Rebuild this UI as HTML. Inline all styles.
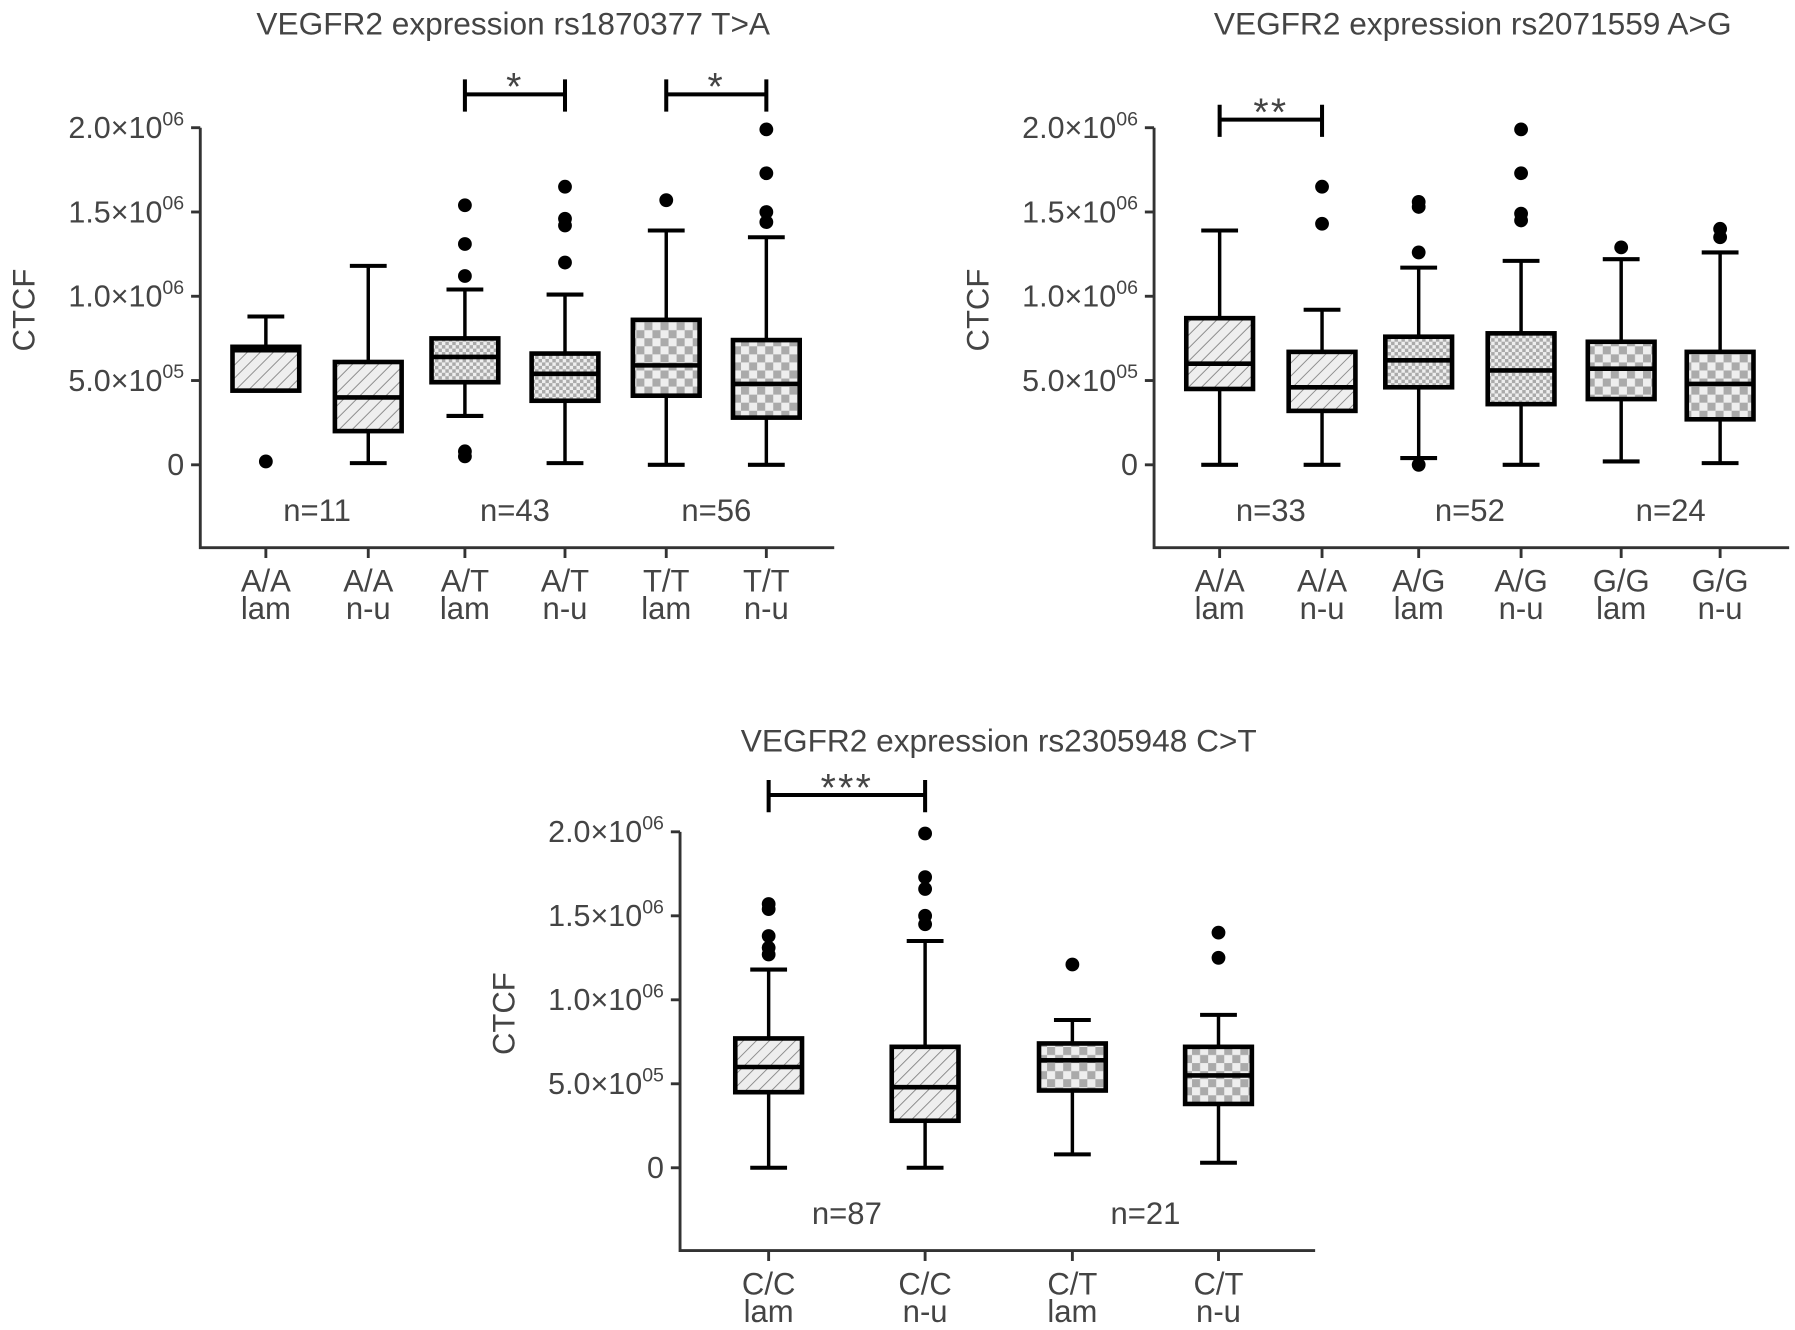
<!DOCTYPE html>
<html><head><meta charset="utf-8"><style>
html,body{margin:0;padding:0;background:#fff}
svg{display:block}
text{font-family:"Liberation Sans",sans-serif;fill:#444}
</style></head><body>
<svg id="fig" width="1795" height="1330" viewBox="0 0 1560 1156" xmlns="http://www.w3.org/2000/svg">
<defs>
<pattern id="hatch" patternUnits="userSpaceOnUse" width="8" height="8" patternTransform="rotate(45)">
<rect width="8" height="8" fill="#eee"/><line x1="0" y1="0" x2="0" y2="8" stroke="#888" stroke-width="1.6"/></pattern>
<pattern id="fine" patternUnits="userSpaceOnUse" width="6" height="6">
<rect width="6" height="6" fill="#eee"/><rect width="3" height="3" fill="#aaa"/><rect x="3" y="3" width="3" height="3" fill="#aaa"/></pattern>
<pattern id="coarse" patternUnits="userSpaceOnUse" width="14" height="14">
<rect width="14" height="14" fill="#eee"/><rect width="7" height="7" fill="#aaa"/><rect x="7" y="7" width="7" height="7" fill="#aaa"/></pattern>
</defs>
</svg>
<script>
// values in units of 1e5
const c1Cats=[["A/A","lam"],["A/A","n-u"],["A/T","lam"],["A/T","n-u"],["T/T","lam"],["T/T","n-u"]];
const c1Lo=[4.4,0.1,2.9,0.1,0,0];
const c1Q1=[4.4,2.0,4.9,3.8,4.1,2.8];
const c1Med=[6.8,4.0,6.4,5.4,5.9,4.8];
const c1Q3=[7.0,6.1,7.5,6.6,8.6,7.4];
const c1Hi=[8.8,11.8,10.4,10.1,13.9,13.5];
const c1Out=[[0.2],[],[15.4,13.1,11.2,0.8,0.5],[16.5,14.6,14.2,12.0],[15.7],[19.9,17.3,15.0,14.4]];
const c1Fill=["hatch","hatch","fine","fine","coarse","coarse"];
const c1N=["n=11","n=43","n=56"];

const c2Cats=[["A/A","lam"],["A/A","n-u"],["A/G","lam"],["A/G","n-u"],["G/G","lam"],["G/G","n-u"]];
const c2Lo=[0,0,0.4,0,0.2,0.1];
const c2Q1=[4.5,3.2,4.6,3.6,3.9,2.7];
const c2Med=[6.0,4.6,6.2,5.6,5.7,4.8];
const c2Q3=[8.7,6.7,7.6,7.8,7.3,6.7];
const c2Hi=[13.9,9.2,11.7,12.1,12.2,12.6];
const c2Out=[[],[16.5,14.3],[15.6,15.3,12.6,0.0],[19.9,17.3,14.9,14.5],[12.9],[14.0,13.5]];
const c2Fill=["hatch","hatch","fine","fine","coarse","coarse"];
const c2N=["n=33","n=52","n=24"];

const c3Cats=[["C/C","lam"],["C/C","n-u"],["C/T","lam"],["C/T","n-u"]];
const c3Lo=[0,0,0.8,0.3];
const c3Q1=[4.5,2.8,4.6,3.8];
const c3Med=[6.0,4.8,6.4,5.5];
const c3Q3=[7.7,7.2,7.4,7.2];
const c3Hi=[11.8,13.5,8.8,9.1];
const c3Out=[[15.7,15.4,13.8,13.1,12.7],[19.9,17.3,16.6,15.0,14.5],[12.1],[14.0,12.5]];
const c3Fill=["hatch","hatch","coarse","coarse"];
const c3N=["n=87","n=21"];

const yTicks=[0,5,10,15,20];
const yTickMain=["0","5.0×10","1.0×10","1.5×10","2.0×10"];
const yTickExp=["","05","06","06","06"];

const NS="http://www.w3.org/2000/svg";
const svg=document.getElementById('fig');
function mk(tag,attrs,parent){const e=document.createElementNS(NS,tag);for(const k in attrs)e.setAttribute(k,attrs[k]);(parent||svg).appendChild(e);return e;}

function chart(o){
  const g=mk('g',{});
  
  
  const y=v=>o.y0-(o.y0-o.y20)*v/20;
  const x=i=>o.xs[i];
  const t=mk('text',{x:o.tx,y:o.ty,'font-size':27.5,'text-anchor':'middle'},g);t.textContent=o.title;
  
  
  const yl=mk('text',{x:0,y:0,'font-size':27,'text-anchor':'middle',transform:`translate(${o.ax-144},${(o.y0+o.y20)/2+12}) rotate(-90)`},g);yl.textContent="CTCF";
  
  
  const ax=mk('path',{d:`M${o.ax} ${o.y20} V${o.base} H${o.axEnd}`,stroke:'#333','stroke-width':2.5,fill:'none'},g);
  
  
  yTicks.forEach((v,i)=>{
    mk('line',{x1:o.ax-8,x2:o.ax,y1:y(v),y2:y(v),stroke:'#333','stroke-width':2.5},g);
    const tl=mk('text',{x:o.ax-14,y:y(v)+9,'font-size':26.5,'text-anchor':'end'},g);
    
    
    const s1=mk('tspan',{},tl);s1.textContent=yTickMain[i];
    if(yTickExp[i]){const s2=mk('tspan',{dy:-11,'font-size':17},tl);s2.textContent=yTickExp[i];}
  });
  o.cats.forEach((c,i)=>{
    const cx=x(i);
    mk('line',{x1:cx,x2:cx,y1:o.base,y2:o.base+9,stroke:'#333','stroke-width':2.5},g);
    const l1=mk('text',{x:cx,y:o.base+38,'font-size':27,'text-anchor':'middle'},g);l1.textContent=c[0];
    
    
    const l2=mk('text',{x:cx,y:o.base+62,'font-size':27,'text-anchor':'middle'},g);l2.textContent=c[1];
    
    
    const bg=mk('g',{},g);
    
    
    const hw=29,cw=16;
    mk('line',{x1:cx,x2:cx,y1:y(o.hi[i]),y2:y(o.q3[i]),stroke:'#000','stroke-width':3},bg);
    mk('line',{x1:cx,x2:cx,y1:y(o.q1[i]),y2:y(o.lo[i]),stroke:'#000','stroke-width':3},bg);
    mk('line',{x1:cx-cw,x2:cx+cw,y1:y(o.hi[i]),y2:y(o.hi[i]),stroke:'#000','stroke-width':3.5},bg);
    mk('line',{x1:cx-cw,x2:cx+cw,y1:y(o.lo[i]),y2:y(o.lo[i]),stroke:'#000','stroke-width':3.5},bg);
    mk('rect',{x:cx-hw,y:y(o.q3[i]),width:2*hw,height:y(o.q1[i])-y(o.q3[i]),fill:`url(#${o.fill[i]})`,stroke:'#000','stroke-width':4},bg);
    mk('line',{x1:cx-hw,x2:cx+hw,y1:y(o.med[i]),y2:y(o.med[i]),stroke:'#000','stroke-width':4},bg);
    o.out[i].forEach(v=>{mk('circle',{cx:cx,cy:y(v),r:6,fill:'#000'},bg);});
  });
  o.n.forEach((s,k)=>{
    const nx=(x(2*k)+x(2*k+1))/2;
    const nt=mk('text',{x:nx,y:o.y0+49,'font-size':27,'text-anchor':'middle'},g);nt.textContent=s;
    
    
  });
  o.sig.forEach(sg=>{
    const a=x(sg.a),b=x(sg.b);
    const sgG=mk('g',{},g);
    
    
    mk('path',{d:`M${a} ${sg.y-13} V${sg.y+15} M${a} ${sg.y} H${b} M${b} ${sg.y-13} V${sg.y+15}`,stroke:'#000','stroke-width':3.5,fill:'none'},sgG);
    const st=mk('text',{x:(a+b)/2,y:sg.y+5,'font-size':34,'text-anchor':'middle','letter-spacing':2},sgG);st.textContent=sg.s;
  });
}

chart({name:'chart-rs1870377',title:'VEGFR2 expression rs1870377 T>A',tx:446,ty:30,ax:174,axEnd:725,y0:404,y20:111,base:476,
  xs:[231,320,404,491,579,666],cats:c1Cats,lo:c1Lo,q1:c1Q1,med:c1Med,q3:c1Q3,hi:c1Hi,out:c1Out,fill:c1Fill,n:c1N,
  sig:[{a:2,b:3,y:82,s:'*'},{a:4,b:5,y:82,s:'*'}]});
chart({name:'chart-rs2071559',title:'VEGFR2 expression rs2071559 A>G',tx:1280,ty:30,ax:1003,axEnd:1555,y0:404,y20:111,base:476,
  xs:[1060,1149,1233,1322,1409,1495],cats:c2Cats,lo:c2Lo,q1:c2Q1,med:c2Med,q3:c2Q3,hi:c2Hi,out:c2Out,fill:c2Fill,n:c2N,
  sig:[{a:0,b:1,y:104,s:'**'}]});
chart({name:'chart-rs2305948',title:'VEGFR2 expression rs2305948 C>T',tx:868,ty:653,ax:591,axEnd:1143,y0:1015,y20:723,base:1087,
  xs:[668,804,932,1059],cats:c3Cats,lo:c3Lo,q1:c3Q1,med:c3Med,q3:c3Q3,hi:c3Hi,out:c3Out,fill:c3Fill,n:c3N,
  sig:[{a:0,b:1,y:691,s:'***'}]});
</script>
</body></html>
